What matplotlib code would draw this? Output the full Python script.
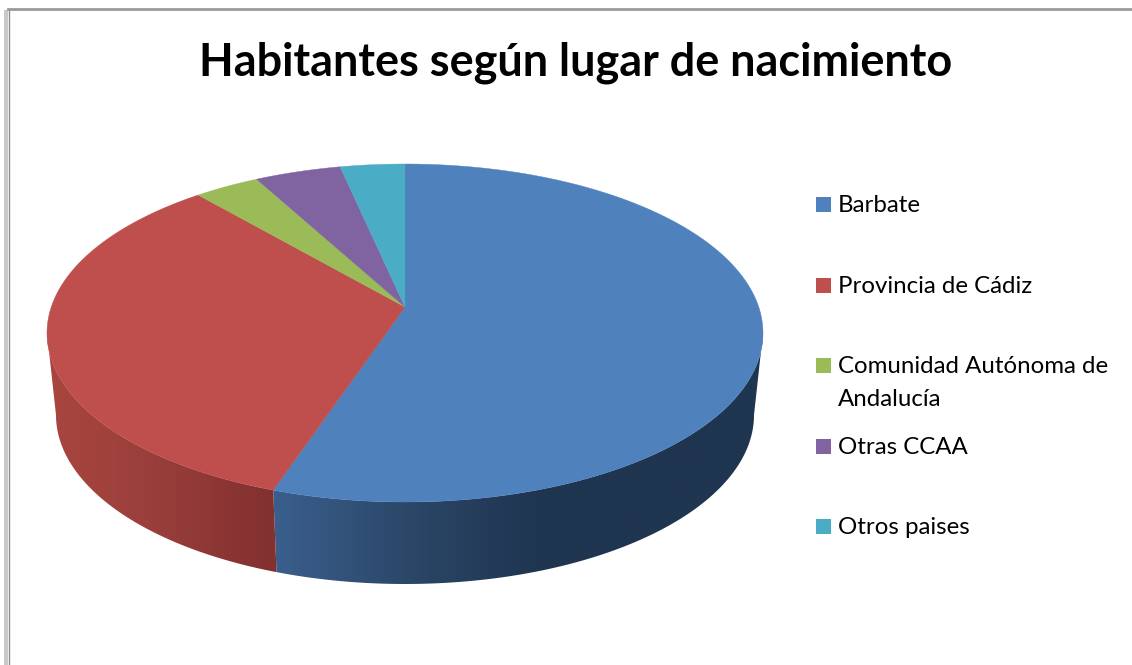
import numpy as np
import matplotlib
matplotlib.use("Agg")
import matplotlib.pyplot as plt
from matplotlib.colors import to_rgb
from matplotlib.patches import Polygon, Rectangle

plt.rcParams["font.family"] = ["Lato", "DejaVu Sans"]

# data (percent of inhabitants)
categories = ["Barbate", "Provincia de Cádiz", "Comunidad Autónoma de\nAndalucía", "Otras CCAA", "Otros paises"]
values = [56.0, 34.2, 3.0, 3.9, 2.9]
colors = ["#4F81BD", "#BE4F4C", "#9BBB59", "#8064A2", "#4BACC6"]
title = "Habitantes según lugar de nacimiento"

# pie geometry in pixels
cx, cy, rx, ry = 405, 333, 358, 169
bot_cy, bot_rx, bot_ry = 415, 349, 169
apex = (405, 307)


def rim(t, x0, y0, a, b):
    return np.column_stack([x0 + a * np.sin(t), y0 - b * np.cos(t)])


def side(ax, t0, t1, stops):
    # wall of the pie between two angles, with a horizontal gradient
    t = np.linspace(t0, t1, 200)
    pts = np.vstack([rim(t, cx, cy, rx, ry), rim(t[::-1], cx, bot_cy, bot_rx, bot_ry)])
    patch = Polygon(pts, closed=True, fc="none", ec="none")
    ax.add_patch(patch)
    xs = np.arange(pts[:, 0].min() - 1, pts[:, 0].max() + 2)
    pos = [s[0] for s in stops]
    rgb = np.array([to_rgb(s[1]) for s in stops])
    img = np.stack([np.interp(xs, pos, rgb[:, i]) for i in range(3)], axis=-1)[None, :, :]
    im = ax.imshow(img, extent=(xs[0], xs[-1], 600, 300), aspect="auto", interpolation="bilinear", zorder=1)
    im.set_clip_path(patch)


fig = plt.figure(figsize=(11.32, 6.65), dpi=100)
ax = fig.add_axes([0, 0, 1, 1])

# walls
ends = np.cumsum(values) / np.sum(values) * 2 * np.pi
side(ax, np.pi / 2, ends[0], [(274, "#3A5F8D"), (420, "#2A4565"), (540, "#1F3550"), (764, "#1F3550")])
side(ax, ends[0], 3 * np.pi / 2, [(47, "#A9453F"), (150, "#9A3F3B"), (274, "#823030")])

# top face
starts = np.concatenate([[0], ends[:-1]])
for s, e, c in zip(starts, ends, colors):
    t = np.linspace(s, e, 200)
    pts = np.vstack([[apex], rim(t, cx, cy, rx, ry)])
    ax.add_patch(Polygon(pts, closed=True, fc=c, ec=c, lw=0.3, zorder=2))

# frame of the chart
ax.add_patch(Rectangle((4, 10), 4, 655, fc="#C8C8C8", ec="none"))
ax.plot([8.5, 8.5], [9, 665], color="#8C8C8C", lw=1)
ax.plot([8, 1132], [9, 9], color="#9A9A9A", lw=2)

ax.text(576, 75, title, fontsize=32.4, fontweight="bold", color="black", ha="center", va="baseline")

# legend
legend_y = [204.5, 285.5, 365.5, 446.5, 526.5]
for y, label, c in zip(legend_y, categories, colors):
    ax.add_patch(Rectangle((816, y - 7.5), 15, 15, fc=c, ec="none"))
    for i, line in enumerate(label.split("\n")):
        ax.text(838, y + 7.5 + 33 * i, line, fontsize=17.3, color="black", ha="left", va="baseline")

ax.set_xlim(0, 1132)
ax.set_ylim(665, 0)
ax.axis("off")
fig.savefig("out.png", dpi=100)
